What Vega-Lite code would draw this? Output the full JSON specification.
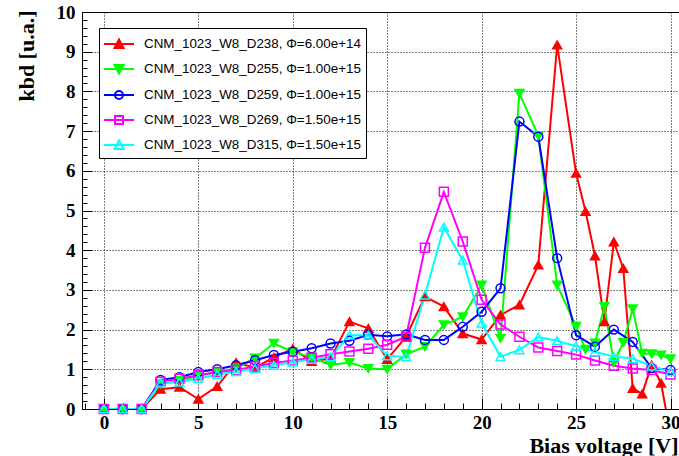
{
  "$schema": "https://vega.github.io/schema/vega-lite/v6.json",
  "width": 597,
  "height": 397,
  "autosize": {"type": "none"},
  "padding": {"left": 82, "top": 12, "right": 0, "bottom": 47},
  "background": "white",
  "config": {
    "view": {"stroke": "black", "strokeWidth": 1},
    "axis": {
      "domainColor": "black",
      "tickColor": "black",
      "tickWidth": 1,
      "gridColor": "black",
      "gridOpacity": 1,
      "gridWidth": 1,
      "labelColor": "black",
      "labelFont": "Liberation Serif",
      "labelFontWeight": "bold",
      "labelFontSize": 19,
      "labelFlush": false,
      "labelOverlap": false,
      "labelBound": false,
      "titleColor": "black",
      "titleFont": "Liberation Serif",
      "titleFontWeight": "bold",
      "titleFontSize": 22
    },
    "legend": {
      "orient": "none",
      "legendX": 17,
      "legendY": 16,
      "title": null,
      "direction": "vertical",
      "padding": 5,
      "strokeColor": "black",
      "fillColor": "white",
      "symbolSize": 400,
      "symbolStrokeWidth": 2,
      "labelFont": "Liberation Sans",
      "labelFontSize": 13.4,
      "labelColor": "black",
      "labelOffset": 18,
      "labelLimit": 400,
      "rowPadding": 6
    }
  },
  "data": {
    "values": [
      {"s": "D238", "x": 0, "y": 0}, {"s": "D238", "x": 1, "y": 0}, {"s": "D238", "x": 2, "y": 0},
      {"s": "D238", "x": 3, "y": 0.5}, {"s": "D238", "x": 4, "y": 0.55}, {"s": "D238", "x": 5, "y": 0.25},
      {"s": "D238", "x": 6, "y": 0.57}, {"s": "D238", "x": 7, "y": 1.17}, {"s": "D238", "x": 8, "y": 1.04},
      {"s": "D238", "x": 9, "y": 1.3}, {"s": "D238", "x": 10, "y": 1.52}, {"s": "D238", "x": 11, "y": 1.2},
      {"s": "D238", "x": 12, "y": 1.27}, {"s": "D238", "x": 13, "y": 2.2}, {"s": "D238", "x": 14, "y": 2.03},
      {"s": "D238", "x": 15, "y": 1.25}, {"s": "D238", "x": 16, "y": 1.82}, {"s": "D238", "x": 17, "y": 2.83},
      {"s": "D238", "x": 18, "y": 2.58}, {"s": "D238", "x": 19, "y": 1.9}, {"s": "D238", "x": 20, "y": 1.75},
      {"s": "D238", "x": 21, "y": 2.37}, {"s": "D238", "x": 22, "y": 2.62}, {"s": "D238", "x": 23, "y": 3.63},
      {"s": "D238", "x": 24, "y": 9.17}, {"s": "D238", "x": 25, "y": 5.94}, {"s": "D238", "x": 25.5, "y": 4.98},
      {"s": "D238", "x": 26, "y": 3.86}, {"s": "D238", "x": 26.5, "y": 2.2}, {"s": "D238", "x": 27, "y": 4.21},
      {"s": "D238", "x": 27.5, "y": 3.54}, {"s": "D238", "x": 28, "y": 0.52}, {"s": "D238", "x": 28.5, "y": 0.38},
      {"s": "D238", "x": 29, "y": 1.11}, {"s": "D238", "x": 29.5, "y": 0.65}, {"s": "D238", "x": 30, "y": -0.65},

      {"s": "D255", "x": 0, "y": 0}, {"s": "D255", "x": 1, "y": 0}, {"s": "D255", "x": 2, "y": 0},
      {"s": "D255", "x": 3, "y": 0.63}, {"s": "D255", "x": 4, "y": 0.72}, {"s": "D255", "x": 5, "y": 0.83},
      {"s": "D255", "x": 6, "y": 0.93}, {"s": "D255", "x": 7, "y": 1.03}, {"s": "D255", "x": 8, "y": 1.28},
      {"s": "D255", "x": 9, "y": 1.65}, {"s": "D255", "x": 10, "y": 1.44}, {"s": "D255", "x": 11, "y": 1.3},
      {"s": "D255", "x": 12, "y": 1.11}, {"s": "D255", "x": 13, "y": 1.17}, {"s": "D255", "x": 14, "y": 1.02},
      {"s": "D255", "x": 15, "y": 1.0}, {"s": "D255", "x": 16, "y": 1.38}, {"s": "D255", "x": 17, "y": 1.57},
      {"s": "D255", "x": 18, "y": 2.12}, {"s": "D255", "x": 19, "y": 2.32}, {"s": "D255", "x": 20, "y": 3.12},
      {"s": "D255", "x": 21, "y": 1.78}, {"s": "D255", "x": 22, "y": 7.95}, {"s": "D255", "x": 23, "y": 6.88},
      {"s": "D255", "x": 24, "y": 3.12}, {"s": "D255", "x": 25, "y": 2.08}, {"s": "D255", "x": 25.5, "y": 1.5},
      {"s": "D255", "x": 26, "y": 1.66}, {"s": "D255", "x": 26.5, "y": 2.58}, {"s": "D255", "x": 27, "y": 1.17},
      {"s": "D255", "x": 27.5, "y": 1.67}, {"s": "D255", "x": 28, "y": 2.52}, {"s": "D255", "x": 28.5, "y": 1.4},
      {"s": "D255", "x": 29, "y": 1.39}, {"s": "D255", "x": 29.5, "y": 1.36}, {"s": "D255", "x": 30, "y": 1.26},

      {"s": "D259", "x": 0, "y": 0}, {"s": "D259", "x": 1, "y": 0}, {"s": "D259", "x": 2, "y": 0},
      {"s": "D259", "x": 3, "y": 0.73}, {"s": "D259", "x": 4, "y": 0.8}, {"s": "D259", "x": 5, "y": 0.93},
      {"s": "D259", "x": 6, "y": 1.0}, {"s": "D259", "x": 7, "y": 1.1}, {"s": "D259", "x": 8, "y": 1.23},
      {"s": "D259", "x": 9, "y": 1.36}, {"s": "D259", "x": 10, "y": 1.44}, {"s": "D259", "x": 11, "y": 1.53},
      {"s": "D259", "x": 12, "y": 1.65}, {"s": "D259", "x": 13, "y": 1.72}, {"s": "D259", "x": 14, "y": 1.87},
      {"s": "D259", "x": 15, "y": 1.83}, {"s": "D259", "x": 16, "y": 1.88}, {"s": "D259", "x": 17, "y": 1.74},
      {"s": "D259", "x": 18, "y": 1.74}, {"s": "D259", "x": 19, "y": 2.07}, {"s": "D259", "x": 20, "y": 2.45},
      {"s": "D259", "x": 21, "y": 3.04}, {"s": "D259", "x": 22, "y": 7.24}, {"s": "D259", "x": 23, "y": 6.86},
      {"s": "D259", "x": 24, "y": 3.8}, {"s": "D259", "x": 25, "y": 1.86}, {"s": "D259", "x": 26, "y": 1.57},
      {"s": "D259", "x": 27, "y": 2.0}, {"s": "D259", "x": 28, "y": 1.69}, {"s": "D259", "x": 29, "y": 1.03},
      {"s": "D259", "x": 30, "y": 0.98},

      {"s": "D269", "x": 0, "y": 0}, {"s": "D269", "x": 1, "y": 0}, {"s": "D269", "x": 2, "y": 0},
      {"s": "D269", "x": 3, "y": 0.69}, {"s": "D269", "x": 4, "y": 0.76}, {"s": "D269", "x": 5, "y": 0.85},
      {"s": "D269", "x": 6, "y": 0.93}, {"s": "D269", "x": 7, "y": 0.98}, {"s": "D269", "x": 8, "y": 1.07},
      {"s": "D269", "x": 9, "y": 1.16}, {"s": "D269", "x": 10, "y": 1.22}, {"s": "D269", "x": 11, "y": 1.29},
      {"s": "D269", "x": 12, "y": 1.38}, {"s": "D269", "x": 13, "y": 1.45}, {"s": "D269", "x": 14, "y": 1.52},
      {"s": "D269", "x": 15, "y": 1.62}, {"s": "D269", "x": 16, "y": 1.82}, {"s": "D269", "x": 17, "y": 4.06},
      {"s": "D269", "x": 18, "y": 5.47}, {"s": "D269", "x": 19, "y": 4.22}, {"s": "D269", "x": 20, "y": 2.75},
      {"s": "D269", "x": 21, "y": 2.13}, {"s": "D269", "x": 22, "y": 1.82}, {"s": "D269", "x": 23, "y": 1.55},
      {"s": "D269", "x": 24, "y": 1.46}, {"s": "D269", "x": 25, "y": 1.37}, {"s": "D269", "x": 26, "y": 1.22},
      {"s": "D269", "x": 27, "y": 1.09}, {"s": "D269", "x": 28, "y": 1.02}, {"s": "D269", "x": 29, "y": 0.98},
      {"s": "D269", "x": 30, "y": 0.87},

      {"s": "D315", "x": 0, "y": 0}, {"s": "D315", "x": 1, "y": 0}, {"s": "D315", "x": 2, "y": 0},
      {"s": "D315", "x": 3, "y": 0.65}, {"s": "D315", "x": 4, "y": 0.68}, {"s": "D315", "x": 5, "y": 0.77},
      {"s": "D315", "x": 6, "y": 0.87}, {"s": "D315", "x": 7, "y": 0.94}, {"s": "D315", "x": 8, "y": 1.02},
      {"s": "D315", "x": 9, "y": 1.1}, {"s": "D315", "x": 10, "y": 1.18}, {"s": "D315", "x": 11, "y": 1.25},
      {"s": "D315", "x": 12, "y": 1.31}, {"s": "D315", "x": 13, "y": 1.86}, {"s": "D315", "x": 14, "y": 1.86},
      {"s": "D315", "x": 15, "y": 1.34}, {"s": "D315", "x": 16, "y": 1.31}, {"s": "D315", "x": 17, "y": 2.87},
      {"s": "D315", "x": 18, "y": 4.58}, {"s": "D315", "x": 19, "y": 3.75}, {"s": "D315", "x": 20, "y": 2.16},
      {"s": "D315", "x": 21, "y": 1.32}, {"s": "D315", "x": 22, "y": 1.49}, {"s": "D315", "x": 23, "y": 1.81},
      {"s": "D315", "x": 24, "y": 1.72}, {"s": "D315", "x": 25, "y": 1.58}, {"s": "D315", "x": 26, "y": 1.44},
      {"s": "D315", "x": 27, "y": 1.32}, {"s": "D315", "x": 28, "y": 1.27}, {"s": "D315", "x": 29, "y": 1.08},
      {"s": "D315", "x": 30, "y": 0.94}
    ]
  },
  "layer": [
    {
      "mark": {"type": "line", "strokeWidth": 2, "clip": true},
      "encoding": {
        "x": {
          "field": "x", "type": "quantitative",
          "scale": {"domain": [-1.16, 30.45], "nice": false, "zero": false},
          "axis": {
            "values": [0, 5, 10, 15, 20, 25, 30],
            "tickSize": -11,
            "labelPadding": 15,
            "grid": true,
            "gridDash": [1, 2],
            "title": "Bias voltage [V]",
            "titleX": 596,
            "titleY": 43,
            "titleAlign": "right",
            "titleBaseline": "alphabetic"
          }
        },
        "y": {
          "field": "y", "type": "quantitative",
          "scale": {"domain": [0, 10], "nice": false, "zero": false},
          "axis": {
            "values": [0, 1, 2, 3, 4, 5, 6, 7, 8, 9, 10],
            "tickSize": -10,
            "labelPadding": 17,
            "grid": true,
            "gridDash": [1, 2],
            "title": "kbd [u.a.]",
            "titleAngle": -90,
            "titleX": -56,
            "titleY": -2,
            "titleAlign": "right",
            "titleBaseline": "middle"
          }
        },
        "color": {
          "field": "s", "type": "nominal",
          "scale": {
            "domain": ["D238", "D255", "D259", "D269", "D315"],
            "range": ["#ff0000", "#00ff00", "#0000ff", "#ff00ff", "#00ffff"]
          },
          "legend": null
        }
      }
    },
    {
      "transform": [{"filter": "datum.y >= 0"}],
      "mark": {"type": "point", "size": 80, "strokeWidth": 1.5, "opacity": 1},
      "encoding": {
        "x": {
          "field": "x", "type": "quantitative",
          "axis": {
            "orient": "bottom",
            "values": [-1, 1, 2, 3, 4, 6, 7, 8, 9, 11, 12, 13, 14, 16, 17, 18, 19, 21, 22, 23, 24, 26, 27, 28, 29],
            "tickSize": -6,
            "labels": false,
            "domain": false,
            "grid": false,
            "title": null
          }
        },
        "y": {
          "field": "y", "type": "quantitative",
          "axis": {
            "orient": "left",
            "values": [0.2, 0.4, 0.6, 0.8, 1.2, 1.4, 1.6, 1.8, 2.2, 2.4, 2.6, 2.8, 3.2, 3.4, 3.6, 3.8, 4.2, 4.4, 4.6, 4.8, 5.2, 5.4, 5.6, 5.8, 6.2, 6.4, 6.6, 6.8, 7.2, 7.4, 7.6, 7.8, 8.2, 8.4, 8.6, 8.8, 9.2, 9.4, 9.6, 9.8],
            "tickSize": -5,
            "labels": false,
            "domain": false,
            "grid": false,
            "title": null
          }
        },
        "color": {
          "field": "s", "type": "nominal",
          "scale": {
            "domain": ["D238", "D255", "D259", "D269", "D315"],
            "range": ["#ff0000", "#00ff00", "#0000ff", "#ff00ff", "#00ffff"]
          },
          "legend": null
        },
        "fill": {
          "field": "s", "type": "nominal",
          "scale": {
            "domain": ["D238", "D255", "D259", "D269", "D315"],
            "range": ["#ff0000", "#00ff00", "transparent", "transparent", "transparent"]
          },
          "legend": null
        },
        "shape": {
          "field": "s", "type": "nominal",
          "scale": {
            "domain": ["D238", "D255", "D259", "D269", "D315"],
            "range": ["triangle-up", "triangle-down", "circle", "square", "triangle-up"]
          },
          "legend": null
        }
      }
    },
    {
      "transform": [{"filter": "false"}],
      "mark": {"type": "point", "size": 400, "strokeWidth": 2, "opacity": 1},
      "encoding": {
        "x": {"field": "x", "type": "quantitative", "axis": null},
        "y": {"field": "y", "type": "quantitative", "axis": null},
        "color": {
          "field": "s", "type": "nominal",
          "scale": {
            "domain": ["D238", "D255", "D259", "D269", "D315"],
            "range": ["#ff0000", "#00ff00", "#0000ff", "#ff00ff", "#00ffff"]
          },
          "legend": {
            "labelExpr": "datum.label == 'D238' ? 'CNM_1023_W8_D238, Φ=6.00e+14' : datum.label == 'D255' ? 'CNM_1023_W8_D255, Φ=1.00e+15' : datum.label == 'D259' ? 'CNM_1023_W8_D259, Φ=1.00e+15' : datum.label == 'D269' ? 'CNM_1023_W8_D269, Φ=1.50e+15' : 'CNM_1023_W8_D315, Φ=1.50e+15'"
          }
        },
        "fill": {
          "field": "s", "type": "nominal",
          "scale": {
            "domain": ["D238", "D255", "D259", "D269", "D315"],
            "range": ["#ff0000", "#00ff00", "transparent", "transparent", "transparent"]
          },
          "legend": {
            "labelExpr": "datum.label == 'D238' ? 'CNM_1023_W8_D238, Φ=6.00e+14' : datum.label == 'D255' ? 'CNM_1023_W8_D255, Φ=1.00e+15' : datum.label == 'D259' ? 'CNM_1023_W8_D259, Φ=1.00e+15' : datum.label == 'D269' ? 'CNM_1023_W8_D269, Φ=1.50e+15' : 'CNM_1023_W8_D315, Φ=1.50e+15'"
          }
        },
        "shape": {
          "field": "s", "type": "nominal",
          "scale": {
            "domain": ["D238", "D255", "D259", "D269", "D315"],
            "range": [
              "M-1.1,0H1.9M0.4,-0.45L0.85,0.4L-0.05,0.4Z",
              "M-1.1,0H1.9M0.4,0.45L0.85,-0.4L-0.05,-0.4Z",
              "M-1.1,0H1.9M0.8,0A0.4,0.4 0 1,1 0,0A0.4,0.4 0 1,1 0.8,0Z",
              "M-1.1,0H1.9M0,-0.4H0.8V0.4H0Z",
              "M-1.1,0H1.9M0.4,-0.45L0.85,0.4L-0.05,0.4Z"
            ]
          },
          "legend": {
            "labelExpr": "datum.label == 'D238' ? 'CNM_1023_W8_D238, Φ=6.00e+14' : datum.label == 'D255' ? 'CNM_1023_W8_D255, Φ=1.00e+15' : datum.label == 'D259' ? 'CNM_1023_W8_D259, Φ=1.00e+15' : datum.label == 'D269' ? 'CNM_1023_W8_D269, Φ=1.50e+15' : 'CNM_1023_W8_D315, Φ=1.50e+15'"
          }
        }
      }
    }
  ],
  "resolve": {
    "axis": {"x": "independent", "y": "independent"},
    "scale": {"color": "independent", "fill": "independent", "shape": "independent"}
  }
}
